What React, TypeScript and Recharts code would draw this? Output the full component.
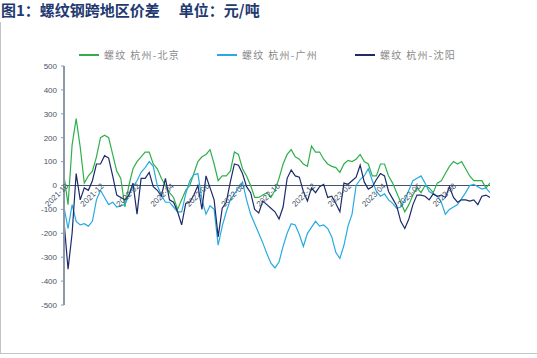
import { Legend, Line, LineChart, ReferenceLine, XAxis, YAxis } from 'recharts';

// weekly samples starting 2021-10-01
const START = Date.UTC(2021, 9, 1);
const WEEK = 7 * 24 * 3600 * 1000;

const tickLabels = [
  '2021-10', '2021-12', '2022-02', '2022-04', '2022-06', '2022-08',
  '2022-10', '2022-12', '2023-02', '2023-04', '2023-06', '2023-08',
];
const yTicks = [-500, -400, -300, -200, -100, 0, 100, 200, 300, 400, 500];

// 螺纹 杭州-北京
const hzBeijing = [
  40, -80, 170, 280, 160, 10, 40, 60, 120, 200,
  210, 200, 130, 60, 30, -90, 0, 70, 100, 120,
  140, 140, 90, 70, 30, 0, -30, -50, -100, -60,
  -20, 0, 50, 100, 120, 130, 150, 90, 20, 40,
  40, 60, 140, 130, 70, 40, 0, -50, -50, -40,
  -30, -50, -20, 30, 90, 130, 150, 120, 110, 90,
  80, 165, 140, 140, 110, 90, 80, 75, 55, 90,
  105, 100, 110, 130, 100, 90, 40, 40, 90, 90,
  40, 10, -30, -70, -110, -80, -40, -10, -30, 0,
  -10, -30, 10, 20, 50, 80, 100, 90, 100, 70,
  40, 20, 20, 20, -10, 10,
];

// 螺纹 杭州-广州
const hzGuangzhou = [
  -90, -180, -80, -150, -165, -160, -170, -150, -60, -20,
  -50, -80, -70, -90, -85, -80, -40, -5, 20, 55,
  75, 100, 80, 0, -40, -70, -70, -90, -110, -110,
  -35, 20, 45, 50, -60, -120, -85, -100, -250, -170,
  -110, -60, -35, -10, 15, -60, -120, -160, -200, -240,
  -285, -325, -345, -320, -255, -200, -160, -165, -205, -255,
  -200, -175, -150, -170, -165, -180, -215, -280, -305, -250,
  -170, -120, 0, 25, 40, 70, 20, -25, -45, -35,
  -60, -75, -95, -90, -60, -20, 20, 30, 40, 10,
  -25, -35, -45, -70, -120, -100, -90, -80, -55, -30,
  0, 5, -5, -15, -10, -30,
];

// 螺纹 杭州-沈阳
const hzShenyang = [
  -150, -350, -200, 50, -60, -10, -20, 20, 90, 90,
  125, 115, 40, -40, -50, -60, -40, 10, -120, 30,
  30, 55, -5, -20, -45, 30, -60, -70, -110, -165,
  -75, -70, -40, 0, -100, 40, -10, -60, -215, -95,
  -70, 15, 90, 85, 50, -5, -30, -100, -115, -65,
  -80, -95, -110, -140, -90, 30, 65, 40, 35, -25,
  -65, -10, -30, -5, 5, -50, -45, -75, -110, 10,
  5, 20, 35, 85, 15, -15, -5, 25, 50, 40,
  -25, -55, -85, -150, -180, -140, -80, -40, -40, -45,
  -60, -35, -45, -40, -50, -5, -50, -70, -60, -60,
  -65, -60, -80, -45, -40, -50,
];

const data = hzBeijing.map((v, i) => ({
  t: START + i * WEEK,
  bj: v,
  gz: hzGuangzhou[i],
  sy: hzShenyang[i],
}));

const END = START + (hzBeijing.length - 1) * WEEK;
const xTicks = tickLabels.map(s => {
  const [y, m] = s.split('-').map(Number);
  return Date.UTC(y, m - 1, 1);
});

const series = [
  { key: 'bj', name: '螺纹 杭州-北京', color: '#2fb04c' },
  { key: 'gz', name: '螺纹 杭州-广州', color: '#27aae1' },
  { key: 'sy', name: '螺纹 杭州-沈阳', color: '#1d2b68' },
];

const W = 537;
const H = 358;
const MARGIN = { top: 51, right: 47, bottom: 52, left: 24 };
const PLOT_H = H - MARGIN.top - MARGIN.bottom;
const AXIS_TEXT = '#44546a';
const NUM_FONT = '"Liberation Sans", Arial, sans-serif';
const CJK_FONT = '"Noto Sans CJK SC", "Noto Sans", sans-serif';

function DateTick(props: any) {
  const { x, y, payload } = props;
  const d = new Date(payload.value);
  const label = `${d.getUTCFullYear()}-${String(d.getUTCMonth() + 1).padStart(2, '0')}`;
  // labels hang under the zero line, not the bottom of the plot
  const ax = x + 5;
  const ay = y - PLOT_H / 2 + 9;
  return (
    <text
      x={ax}
      y={ay}
      transform={`rotate(-45 ${ax} ${ay})`}
      textAnchor="end"
      fontSize={8}
      fontFamily={NUM_FONT}
      fill={AXIS_TEXT}
    >
      {label}
    </text>
  );
}

function LegendRow() {
  return (
    <div style={{ display: 'flex', fontFamily: CJK_FONT }}>
      {series.map(s => (
        <div key={s.key} style={{ display: 'flex', alignItems: 'center', width: 138 }}>
          <span style={{ display: 'inline-block', width: 20, height: 2, background: s.color, marginRight: 5 }} />
          <span style={{ fontSize: 10, color: '#8a8a8a', letterSpacing: 1.3, whiteSpace: 'pre' }}>{s.name}</span>
        </div>
      ))}
    </div>
  );
}

export default function App() {
  return (
    <div style={{ position: 'fixed', left: 0, top: 0, width: W, height: H, background: '#fff', overflow: 'hidden' }}>
      <div
        style={{
          position: 'absolute',
          left: 1,
          top: 0,
          fontFamily: CJK_FONT,
          fontWeight: 700,
          fontSize: 15,
          lineHeight: '20px',
          color: '#1f3a70',
          whiteSpace: 'pre',
        }}
      >
        <span>图1：螺纹钢跨地区价差</span>
        <span style={{ marginLeft: 19 }}>单位：元/吨</span>
      </div>
      <div
        style={{
          position: 'absolute',
          left: 0,
          top: 22,
          width: W - 1,
          height: 331,
          borderLeft: '1px solid #c4c4c4',
          borderBottom: '1px solid #c4c4c4',
        }}
      />
      <div style={{ position: 'absolute', left: 0, top: 0 }}>
        <LineChart width={W} height={H} data={data} margin={MARGIN}>
          <XAxis
            dataKey="t"
            type="number"
            domain={[START, END]}
            ticks={xTicks}
            interval={0}
            axisLine={false}
            tickLine={false}
            tickSize={0}
            tickMargin={0}
            height={1}
            tick={<DateTick />}
            allowDataOverflow
          />
          <YAxis
            domain={[-500, 500]}
            ticks={yTicks}
            interval={0}
            width={40}
            axisLine={{ stroke: '#8e98ab', strokeWidth: 2 }}
            tickLine={{ stroke: '#8e98ab' }}
            tickSize={3}
            tickMargin={4}
            tick={{ fontSize: 8, fill: AXIS_TEXT, fontFamily: NUM_FONT }}
          />
          <ReferenceLine y={0} stroke="#44546a" strokeWidth={1.2} />
          <Legend
            verticalAlign="top"
            content={() => <LegendRow />}
            wrapperStyle={{ position: 'absolute', top: 47, left: 79, width: 420 }}
          />
          {series.map(s => (
            <Line
              key={s.key}
              dataKey={s.key}
              name={s.name}
              stroke={s.color}
              strokeWidth={1.2}
              dot={false}
              type="linear"
              isAnimationActive={false}
            />
          ))}
        </LineChart>
      </div>
    </div>
  );
}
